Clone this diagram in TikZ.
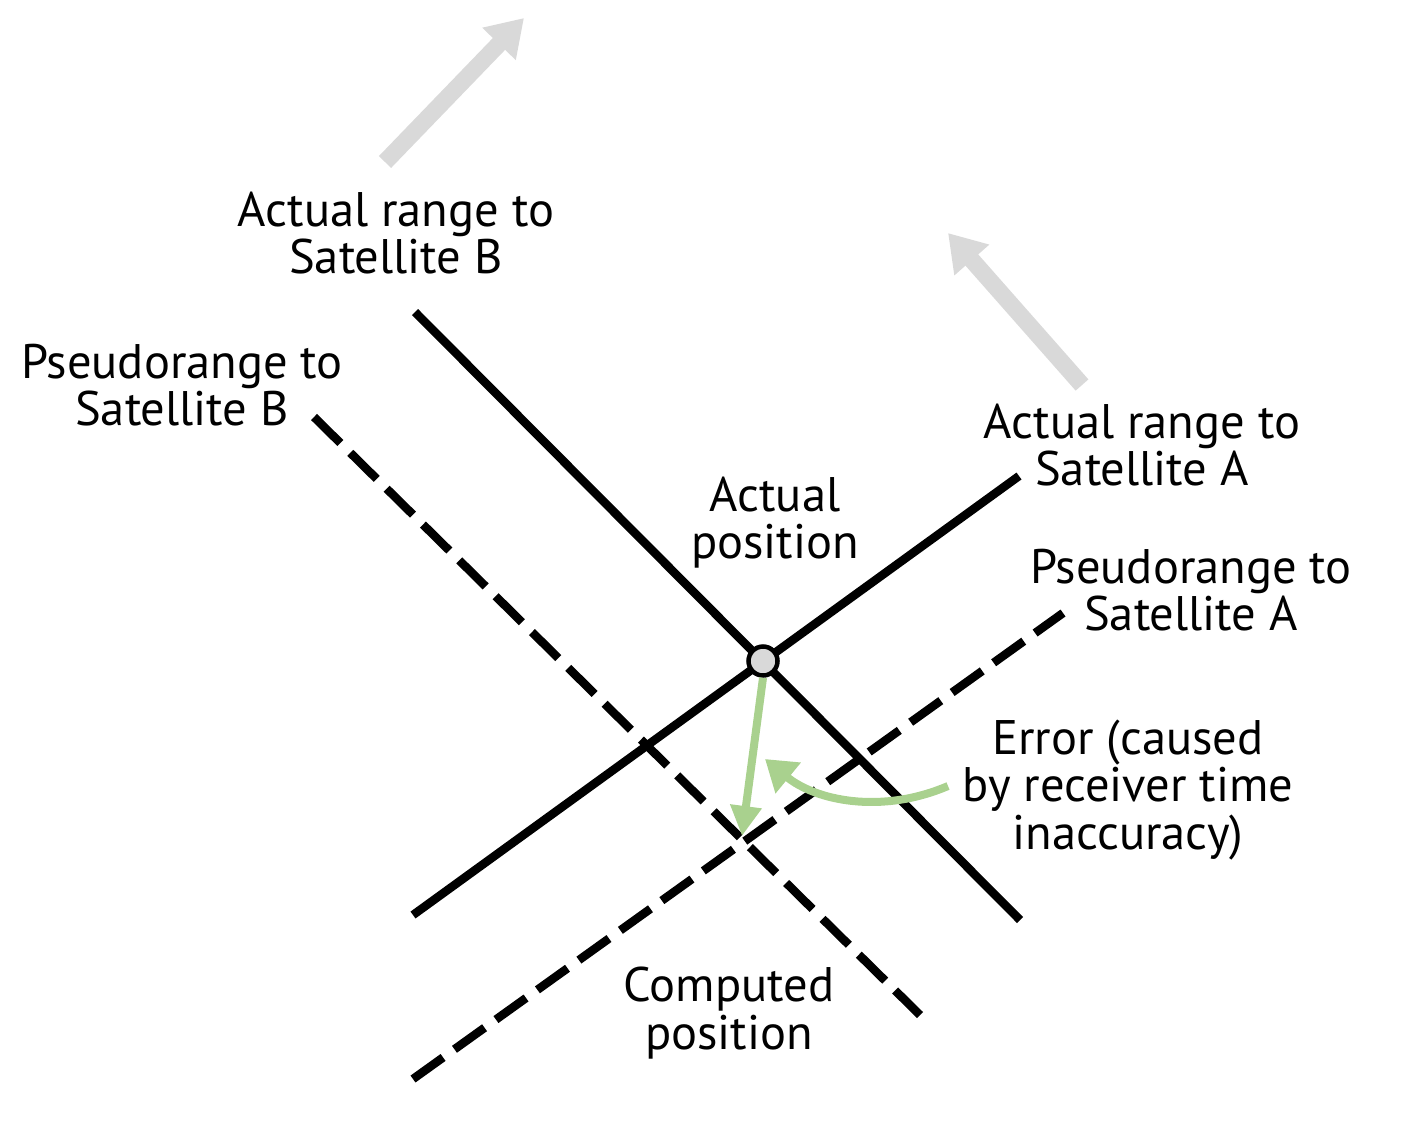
\documentclass[tikz,border=0pt]{standalone}
\usepackage{fontspec}
\setmainfont{PT Sans}
\usetikzlibrary{arrows.meta}
\definecolor{arrgray}{HTML}{D9D9D9}
\definecolor{errgreen}{HTML}{A9D18E}
\tikzset{
  rangeline/.style={line width=0.085cm, black},
  pseudoline/.style={line width=0.085cm, black, dash pattern=on 0.37cm off 0.14cm},
  satarrow/.style={line width=0.17cm, arrgray, -{Triangle[width=0.44cm,length=0.36cm]}},
  errarrow/.style={line width=0.08cm, errgreen, -{Triangle[width=0.3cm,length=0.3cm]}},
  lbl/.style={align=center, font=\fontsize{13.8pt}{13.4pt}\selectfont, inner sep=0pt}
}
\begin{document}
\begin{tikzpicture}[x=0.01cm,y=-0.01cm]
\useasboundingbox (0,0) rectangle (1404,1142);
% coordinates
\coordinate (rb1) at (415,312);
\coordinate (rb2) at (1020,920);
\coordinate (ra1) at (413,915);
\coordinate (ra2) at (1019,476);
\coordinate (pb1) at (314,417);
\coordinate (pb2) at (920,1015);
\coordinate (pa1) at (413,1079);
\coordinate (pa2) at (1063,613);
\coordinate (sb1) at (385,162);
\coordinate (sb2) at (524,18);
\coordinate (sa1) at (1082,385);
\coordinate (sa2) at (948,233);
\coordinate (comp) at (742,836);
\coordinate (es) at (948,786);
\coordinate (ee) at (765,759);
% lines
\draw[rangeline] (rb1) -- (rb2);
\draw[rangeline] (ra1) -- (ra2);
\draw[pseudoline] (pb1) -- (pb2);
\draw[pseudoline] (pa1) -- (pa2);
% satellite arrows
\draw[satarrow] (sb1) -- (sb2);
\draw[satarrow] (sa1) -- (sa2);
% actual position
\node[circle, draw=black, line width=0.045cm, fill=arrgray, minimum size=0.29cm, inner sep=0pt] (act) at (763,661) {};
% error arrows
\draw[errarrow] (act.south) -- (comp);
\draw[errarrow, -{Triangle[width=0.38cm,length=0.3cm]}] (es) .. controls (880,815) and (815,800) .. (ee);
% labels
\node[lbl] (tRB) at (396,233) {Actual range to\\Satellite B};
\node[lbl] (tPB) at (182,385) {Pseudorange to\\Satellite B};
\node[lbl] (tRA) at (1142,445) {Actual range to\\Satellite A};
\node[lbl] (tAP) at (775,523) {Actual\\position};
\node[lbl] (tPA) at (1191,590) {Pseudorange to\\Satellite A};
\node[lbl] (tER) at (1128,790) {Error (caused\\by receiver time\\inaccuracy)};
\node[lbl] (tCP) at (729,1013) {Computed\\position};
\end{tikzpicture}
\end{document}
